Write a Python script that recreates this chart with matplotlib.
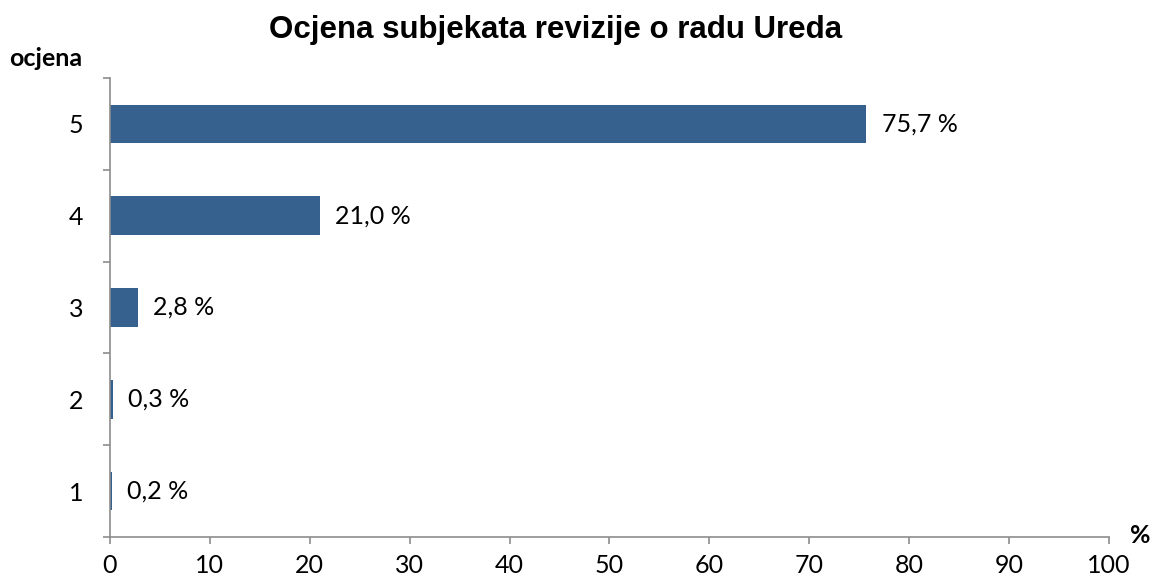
import matplotlib.pyplot as plt

ocjene = ['1', '2', '3', '4', '5']
postotci = [0.2, 0.3, 2.8, 21.0, 75.7]
oznake = ['0,2 %', '0,3 %', '2,8 %', '21,0 %', '75,7 %']

boja_stupca = '#36618f'
boja_osi = '#8c8c8c'

fig = plt.figure(figsize=(11.54, 5.80), dpi=100, facecolor='white')
ax = fig.add_axes([0.0953, 0.074, 0.8657, 0.7915])

y = list(range(len(ocjene)))
ax.barh(y, postotci, height=0.42, color=boja_stupca)

for yi, v, t in zip(y, postotci, oznake):
    ax.annotate(t, xy=(v, yi), xytext=(11, 0), textcoords='offset points',
                va='center', ha='left', fontsize=18, family='Lato')

ax.set_xlim(0, 100)
ax.set_ylim(-0.5, len(ocjene) - 0.5)
ax.set_xticks(range(0, 101, 10))
ax.set_xticklabels([str(i) for i in range(0, 101, 10)], family='Lato', fontsize=18)

# kvačice između kategorija
ax.set_yticks([i - 0.5 for i in range(len(ocjene) + 1)], minor=False)
ax.set_yticklabels([''] * (len(ocjene) + 1))
ax.set_yticks(y, minor=True)
ax.set_yticklabels(ocjene, minor=True, family='Lato', fontsize=18)
ax.tick_params(axis='y', which='minor', length=0, pad=19)
ax.tick_params(axis='y', which='major', length=5, color=boja_osi, width=1.2)
ax.tick_params(axis='x', length=5, color=boja_osi, width=1.2, pad=7)

for s in ['top', 'right']:
    ax.spines[s].set_visible(False)
for s in ['left', 'bottom']:
    ax.spines[s].set_color(boja_osi)
    ax.spines[s].set_linewidth(1.2)

fig.text(0.481, 0.948, 'Ocjena subjekata revizije o radu Ureda', ha='center', va='center',
         fontsize=22.5, fontweight='bold', family='Liberation Sans')
fig.text(0.008, 0.9, 'ocjena', ha='left', va='center', fontsize=18,
         fontweight='bold', family='Lato')
fig.text(0.988, 0.077, '%', ha='center', va='center', fontsize=18,
         fontweight='bold', family='Lato')

fig.savefig('out.png', dpi=100)
